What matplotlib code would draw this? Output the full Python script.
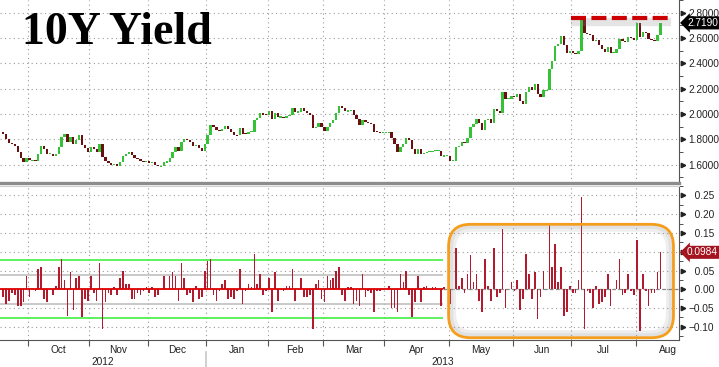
import numpy as np
import pandas as pd
import matplotlib
matplotlib.use("Agg")
import matplotlib.pyplot as plt
from matplotlib.patches import FancyBboxPatch
from matplotlib.transforms import IdentityTransform, blended_transform_factory

# US 10Y yield, daily closes (one list per month)
sep12 = [1.84, 1.80, 1.77, 1.76, 1.745, 1.70, 1.655, 1.62, 1.655]
oct12 = [1.635, 1.635, 1.63, 1.685, 1.745, 1.72, 1.685, 1.685, 1.67, 1.68, 1.74,
         1.82, 1.845, 1.775, 1.82, 1.765, 1.795, 1.83, 1.755, 1.73, 1.70]
nov12 = [1.735, 1.725, 1.695, 1.765, 1.66, 1.625, 1.615, 1.60, 1.605, 1.59,
         1.62, 1.67, 1.685, 1.70, 1.675, 1.65, 1.64, 1.625, 1.62, 1.625]
dec12 = [1.615, 1.62, 1.60, 1.585, 1.585, 1.62, 1.62, 1.655, 1.70, 1.735,
         1.705, 1.775, 1.805, 1.79, 1.78, 1.745, 1.755, 1.73, 1.71, 1.76]
jan13 = [1.835, 1.915, 1.90, 1.87, 1.865, 1.88, 1.905, 1.88, 1.86, 1.835, 1.83,
         1.885, 1.845, 1.84, 1.855, 1.86, 1.955, 1.97, 2.01, 1.995, 1.99]
feb13 = [2.02, 1.96, 2.005, 1.975, 1.975, 1.97, 1.98, 1.99, 2.045, 2.015,
         2.015, 2.045, 2.025, 2.005, 1.99, 1.885, 1.90, 1.925, 1.90]
mar13 = [1.865, 1.90, 1.925, 1.955, 2.005, 2.065, 2.05, 2.02, 2.025, 2.03, 1.99,
         1.96, 1.915, 1.955, 1.935, 1.93, 1.92, 1.86, 1.855, 1.85, 1.85]
apr13 = [1.85, 1.86, 1.81, 1.76, 1.70, 1.74, 1.76, 1.81, 1.795, 1.72, 1.685,
         1.72, 1.685, 1.69, 1.70, 1.70, 1.705, 1.71, 1.71, 1.665, 1.67, 1.67]
may13 = [1.63, 1.63, 1.74, 1.75, 1.78, 1.77, 1.81, 1.90, 1.92, 1.96, 1.93,
         1.87, 1.95, 1.96, 1.93, 2.04, 2.02, 2.01, 2.17, 2.12, 2.12, 2.14]
jun13 = [2.135, 2.16, 2.105, 2.08, 2.175, 2.215, 2.19, 2.235, 2.155, 2.135,
         2.185, 2.185, 2.355, 2.415, 2.535, 2.555, 2.615, 2.545, 2.485, 2.495]
jul13 = [2.485, 2.475, 2.50, 2.745, 2.64, 2.635, 2.625, 2.575, 2.585, 2.545, 2.51,
         2.49, 2.53, 2.485, 2.485, 2.51, 2.59, 2.575, 2.565, 2.605, 2.60, 2.585]
aug13 = [2.715, 2.605, 2.645, 2.64, 2.595, 2.585, 2.575, 2.6206, 2.719]

first_open = 1.86
start_date = "2012-09-18"
holidays = ["2012-10-08", "2012-10-30", "2012-11-12", "2012-11-22", "2012-12-25",
            "2013-01-01", "2013-01-21", "2013-02-18", "2013-05-27", "2013-07-04"]

month_names = ["Oct", "Nov", "Dec", "Jan", "Feb", "Mar", "Apr", "May", "Jun", "Jul", "Aug"]
year_names = ["2012", "2013"]
top_ticks = [1.6, 1.8, 2.0, 2.2, 2.4, 2.6, 2.8]
bottom_ticks = [-0.10, -0.05, 0.0, 0.05, 0.10, 0.15, 0.20, 0.25]

band_inner = 0.038      # grey lines
band_outer = 0.077      # green lines
band_end = "2013-04-26"
july_high = 2.756       # red dashed resistance line
box_start = "2013-05-01"
box_low, box_high = -0.129, 0.173

closes = np.array(sep12 + oct12 + nov12 + dec12 + jan13 + feb13 + mar13 +
                  apr13 + may13 + jun13 + jul13 + aug13)
opens = np.r_[first_open, closes[:-1]]
change = closes - opens
dates = pd.bdate_range(start_date, periods=len(closes), freq="C", holidays=holidays)
x = np.arange(len(closes))

# month boundaries on the trading-day axis
per = dates.to_period("M")
starts = [i for i in range(1, len(per)) if per[i] != per[i - 1]]
bounds = [s - 0.5 for s in starts]
centers = []
for k, s in enumerate(starts):
    if k + 1 < len(starts):
        end = starts[k + 1] - 0.5
    else:
        p = per[s]
        full = pd.bdate_range(p.start_time, p.end_time, freq="C", holidays=holidays)
        end = s - 0.5 + len(full)
    centers.append((s - 0.5 + end) / 2)
year_bound = [b for b, s in zip(bounds, starts) if dates[s].month == 1][0]

xmin, xmax = -1.1, 231.4
font = ["Liberation Sans", "DejaVu Sans"]
grid_kw = dict(color="#9a9a9a", linestyle=(0, (1, 3)), linewidth=0.8)

fig = plt.figure(figsize=(7.19, 3.67), dpi=100)
ax1 = fig.add_axes([0, 0.5014, 0.9444, 0.4986])
ax2 = fig.add_axes([0, 0.0736, 0.9444, 0.4196])

# ---- top: candles
up = closes >= opens
lo = np.minimum(opens, closes)
h = np.abs(change)
pad = np.clip(0.009 - h, 0, None)
ax1.bar(x, h + pad, bottom=lo - pad / 2, width=0.8,
        color=np.where(up, "#36c236", "#6a1010"), zorder=3)
ax1.set_xlim(xmin, xmax)
ax1.set_ylim(1.454, 2.859)

j0 = int(np.searchsorted(dates, pd.Timestamp("2013-07-01")))
ax1.hlines(july_high - 0.028, j0 - 0.5, len(x) + 2.5, colors="#888888",
           linewidth=6, alpha=0.22, zorder=4)
ax1.hlines(july_high, j0 - 0.5, len(x) + 2.5, colors="#cc0000",
           linewidth=3, linestyles=(0, (3.6, 1.3)), zorder=5)

# ---- bottom: daily change
ax2.bar(x, change, width=0.55, color="#b21a2e", zorder=3)
ax2.set_xlim(xmin, xmax)
ax2.set_ylim(-0.135, 0.271)
be = int(np.searchsorted(dates, pd.Timestamp(band_end))) + 0.5
for lvl, col, lw in [(band_outer, "#33ee33", 1.1), (band_inner, "#bbbbbb", 1.1)]:
    ax2.hlines([lvl, -lvl], xmin, be, colors=col, linewidth=lw, zorder=2)
ax2.hlines(0, xmin, be, colors="#dd0000", linewidth=1.3, zorder=4)
ax2.hlines(0, be, xmax, colors="#888888", linewidth=0.9,
           linestyles=(0, (3, 2)), zorder=2)

for ax, ticks, fmt, last, hide in [(ax1, top_ticks, "{:.4f}", closes[-1], 0.05),
                                   (ax2, bottom_ticks, "{:.2f}", change[-1], 0.02)]:
    ax.set_xticks(bounds)
    ax.grid(True, **grid_kw)
    ax.set_axisbelow(True)
    ax.yaxis.tick_right()
    ax.set_yticks(ticks)
    labels = []
    for v in ticks:
        s = fmt.format(v)
        if abs(v - last) < hide:
            s = ""      # covered by the last-value tag
        elif v < -1e-9:
            s = s.replace("-", "\u2212")
        elif ax is ax2:
            s = "\u2007" + s
        labels.append(s)
    ax.set_yticklabels(labels, fontfamily=font, fontsize=7.3, color="#222222")
    step = ticks[1] - ticks[0]
    ax.set_yticks(np.arange(ticks[0] - step / 2, ticks[-1] + step, step), minor=True)
    ax.tick_params(axis="y", which="major", length=0, pad=7)
    ax.tick_params(axis="y", which="minor", length=3, color="#333333", direction="out")
    tr = blended_transform_factory(ax.transAxes, ax.transData)
    ax.plot(np.full(len(ticks), 1.0055), ticks, ls="none", marker=">", ms=3.2,
            color="#222222", transform=tr, clip_on=False, zorder=6)
    for side in ["left", "top"]:
        ax.spines[side].set_visible(False)
    ax.spines["right"].set_color("#555555")

ax1.tick_params(axis="x", length=0, labelbottom=False)
ax1.spines["bottom"].set_color("#8c8c8c")
ax1.spines["bottom"].set_linewidth(2.4)
ax2.spines["top"].set_visible(True)
ax2.spines["top"].set_color("#d0d0d0")
ax2.spines["bottom"].set_color("#555555")
ax2.tick_params(axis="x", length=4, color="#555555", labelbottom=False)

xt = blended_transform_factory(ax2.transData, ax2.transAxes)
for c, name in zip(centers, month_names):
    ax2.text(c, -0.062, name, transform=xt, ha="center", va="center",
             fontfamily=font, fontsize=7.3, color="#222222", clip_on=False)
for c, name in zip([(xmin + year_bound) / 2, (year_bound + xmax) / 2], year_names):
    ax2.text(c, -0.145, name, transform=xt, ha="center", va="center",
             fontfamily=font, fontsize=7.3, color="#222222", clip_on=False)
ax2.plot([year_bound, year_bound], [-0.08, -0.25], color="#c8c8c8", lw=1.2,
         transform=xt, clip_on=False)

# ---- last-value tags
tag = dict(ha="left", va="center", color="white", fontfamily=font, fontsize=7.3,
           clip_on=False, zorder=20)
ax1.text(1.0 + 8 / 679, closes[-1], f"{closes[-1]:.4f}",
         transform=blended_transform_factory(ax1.transAxes, ax1.transData),
         bbox=dict(boxstyle="larrow,pad=0.15", fc="black", ec="none"), **tag)
ax2.text(1.0 + 8 / 679, change[-1], f"{change[-1]:.4f}",
         transform=blended_transform_factory(ax2.transAxes, ax2.transData),
         bbox=dict(boxstyle="larrow,pad=0.15", fc="#a3141f", ec="none"), **tag)

# ---- orange highlight box over May-Aug
b0 = int(np.searchsorted(dates, pd.Timestamp(box_start))) - 0.5
x0p, y0p = ax2.transData.transform((b0, box_low))
x1p, y1p = ax2.transData.transform((len(x) + 3.5, box_high))
for inset, col, lw, a in [(4, "#777777", 5, 0.12), (2.5, "#999999", 3, 0.15)]:
    fig.add_artist(FancyBboxPatch((x0p + inset, y0p + inset), x1p - x0p - 2 * inset,
                                  y1p - y0p - 2 * inset,
                                  boxstyle="round,pad=0,rounding_size=20",
                                  transform=IdentityTransform(), fill=False,
                                  ec=col, lw=lw, alpha=a, zorder=9))
fig.add_artist(FancyBboxPatch((x0p, y0p), x1p - x0p, y1p - y0p,
                              boxstyle="round,pad=0,rounding_size=22",
                              transform=IdentityTransform(), fill=False,
                              ec="#f59d1c", lw=2, zorder=10))

fig.text(22 / 719, 1 - 44 / 367, "10Y Yield", fontsize=33, fontweight="bold",
         fontfamily=["Liberation Serif", "DejaVu Serif"], va="baseline", color="black")

fig.savefig("out.png", dpi=100)
